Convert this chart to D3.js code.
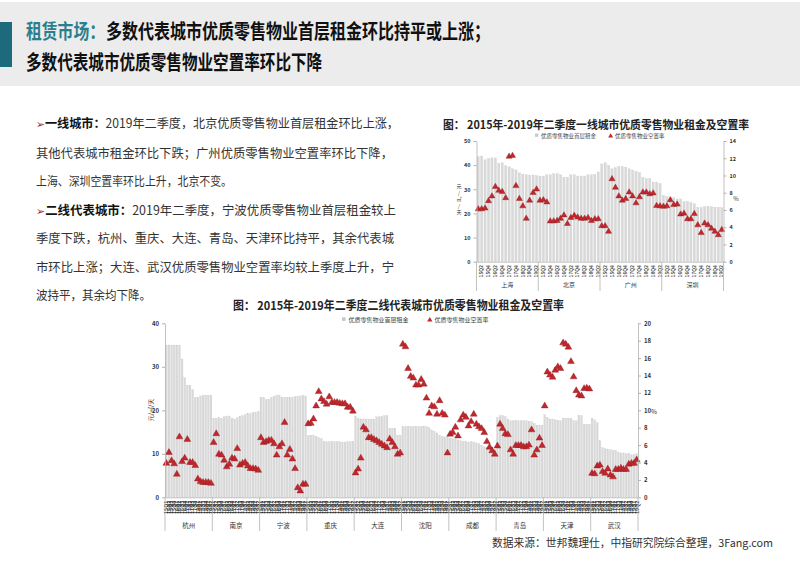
<!DOCTYPE html>
<html><head><meta charset="utf-8">
<script src="https://cdn.jsdelivr.net/npm/d3@7"></script>
<style>
body{margin:0;background:#fff}
svg{display:block}
text{font-family:"Noto Sans CJK SC","Noto Sans",sans-serif}
</style>
</head><body>
<svg id="c" width="800" height="565"></svg>
<script>
// ---------------- DATA ----------------
const quarters = ["15Q1","15Q2","15Q3","15Q4","16Q1","16Q2","16Q3","16Q4","17Q1","17Q2","17Q3","17Q4","18Q1","18Q2","18Q3","18Q4","19Q1","19Q2"];

// Tier-1 chart
const t1Cities = ["上海","北京","广州","深圳"];
const t1Rent = [
  [43.5,43.8,42.2,42.8,43.0,43.0,40.8,41.0,39.8,39.3,38.5,38.0,36.8,36.3,36.0,35.9,35.9,35.7],
  [35.5,35.5,36.0,36.0,36.5,36.5,36.0,35.0,35.0,36.0,36.0,35.5,35.5,35.5,36.0,36.0,36.2,37.2],
  [40.5,41.0,40.0,38.5,39.0,39.5,39.5,39.2,38.5,38.0,37.5,37.0,35.0,34.5,34.5,33.0,33.0,32.5],
  [27.5,27.0,26.5,26.5,26.0,26.0,25.0,25.0,24.5,24.0,22.5,22.5,22.8,23.0,22.8,22.6,22.6,22.4]
];
const t1Vacancy = [
  [6.1,6.1,6.2,7.05,7.6,8.7,8.25,8.1,7.4,12.2,12.3,8.8,7.3,6.45,5.0,7.1,8.0,8.4],
  [7.1,7.15,6.9,4.7,4.7,4.75,5.0,5.4,4.4,5.1,5.35,5.15,5.0,5.0,5.1,4.75,4.95,4.95],
  [4.15,4.15,3.5,9.6,8.6,7.6,7.1,7.3,8.05,7.6,6.8,7.5,8.05,8.05,7.85,7.95,6.5,6.45],
  [6.4,6.45,7.15,6.6,6.65,5.5,5.6,4.95,4.95,5.55,4.25,3.35,4.45,4.25,3.85,3.5,3.1,3.7]
];
const t1LeftTicks = [0,10,20,30,40,50];
const t1RightTicks = [0,2,4,6,8,10,12,14];

// Tier-2 chart
const t2Cities = ["杭州","南京","宁波","重庆","大连","沈阳","成都","青岛","天津","武汉"];
const t2Rent = [
  [35,35,35,35,35,35,31.8,27.5,25.8,25.8,24.8,23,23,23.3,23.5,23.5,23.5,23.5],
  [18.2,18.2,18.3,18.2,18.5,18.6,18.7,18.2,18.0,18.3,18.6,18.8,19.0,19.2,19.3,19.5,19.6,19.8],
  [23.0,23.0,22.5,22.5,23.0,23.2,23.5,23.5,23.0,23.0,23.0,23.0,23.0,23.2,23.2,23.3,23.4,23.3],
  [14.2,14.3,14.3,14.0,13.7,13.5,12.8,12.8,12.8,12.8,12.8,12.8,12.8,12.7,12.7,12.8,12.8,12.8],
  [18.7,18.2,18.0,18.0,18.0,18.0,18.0,18.0,18.5,18.5,18.5,18.8,18.8,15.9,15.9,15.9,14.3,14.3],
  [16.2,16.3,16.3,16.3,16.3,16.3,16.3,16.3,16.3,16.3,16.0,15.5,15.2,14.8,14.3,14.0,13.8,14.0],
  [13.6,13.5,13.4,13.2,13.0,12.9,12.8,12.7,12.8,12.7,12.5,12.3,12.0,11.6,11.4,11.2,11.0,11.1],
  [18.4,18.8,18.8,18.6,18.0,17.6,17.6,17.6,17.6,17.6,17.6,17.6,17.4,17.4,17.0,16.6,16.6,16.6],
  [19.0,18.4,18.0,18.0,17.8,17.6,17.6,18.2,18.2,18.2,18.2,17.6,17.6,18.8,18.8,16.8,16.8,16.8],
  [18.2,17.8,17.2,13.0,11.4,11.2,11.0,11.0,10.8,10.8,10.4,10.2,10.2,10.0,10.0,9.8,9.8,10.0]
];
const t2Vacancy = [
  [3.9,5.15,4.2,3.85,2.65,6.95,4.1,4.5,6.65,4.0,4.0,3.65,2.1,1.8,1.7,1.7,1.7,1.6],
  [6.3,7.3,4.95,4.85,4.25,3.5,3.8,4.5,4.4,5.6,3.7,3.9,4.0,3.6,3.3,3.3,3.25,3.1],
  [6.85,6.3,6.4,6.55,6.55,6.15,4.85,5.8,6.15,8.6,4.85,5.5,4.4,3.3,1.1,0.73,1.5,1.5],
  [8.45,8.5,9.0,10.5,12.15,11.3,11.0,10.7,11.55,10.9,10.9,10.9,10.8,10.75,10.75,10.35,10.35,9.9],
  [2.8,3.25,4.5,8.05,7.75,6.85,6.85,6.65,6.5,6.3,6.1,5.9,5.7,6.7,6.3,5.8,4.95,5.1],
  [17.6,17.3,14.8,13.9,13.7,12.9,12.9,13.55,13.0,11.4,9.65,10.5,10.4,9.55,11.1,9.65,9.45,5.1],
  [7.25,7.45,8.05,7.05,8.9,9.45,9.2,8.2,8.7,9.55,8.4,8.1,7.9,7.45,6.4,5.75,5.35,4.95],
  [5.9,8.4,7.9,7.3,7.2,5.45,4.95,5.95,5.95,5.95,5.8,5.8,6.0,7.75,4.85,5.45,6.8,5.95],
  [10.5,14.4,14.05,13.8,14.6,15.0,14.8,17.75,17.6,17.25,15.6,13.85,12.25,11.75,11.65,12.5,12.55,12.45],
  [2.75,2.7,3.6,3.7,2.95,2.75,3.25,2.55,2.35,3.2,3.2,3.35,3.2,3.2,3.8,3.9,3.9,4.3]
];
const t2LeftTicks = [0,10,20,30,40];
const t2RightTicks = [0,2,4,6,8,10,12,14,16,18,20];

const headerLine1a = "租赁市场：";
const headerLine1b = "多数代表城市优质零售物业首层租金环比持平或上涨；";
const headerLine2 = "多数代表城市优质零售物业空置率环比下降";
const bodyLines = [
  {b:"一线城市：", t:"2019年二季度，北京优质零售物业首层租金环比上涨，", arrow:true, w:363},
  {t:"其他代表城市租金环比下跌；广州优质零售物业空置率环比下降，", w:357},
  {t:"上海、深圳空置率环比上升，北京不变。", w:196},
  {b:"二线代表城市：", t:"2019年二季度，宁波优质零售物业首层租金较上", arrow:true, w:360},
  {t:"季度下跌，杭州、重庆、大连、青岛、天津环比持平，其余代表城", w:358},
  {t:"市环比上涨；大连、武汉优质零售物业空置率均较上季度上升，宁", w:358},
  {t:"波持平，其余均下降。", w:115}
];
const rentLegend = "优质零售物业首层租金";
const vacLegend = "优质零售物业空置率";
const t1Title = "图：  2015年-2019年二季度一线城市优质零售物业租金及空置率";
const t2Title = "图：  2015年-2019年二季度二线代表城市优质零售物业租金及空置率";
const sourceText = "数据来源：世邦魏理仕，中指研究院综合整理，3Fang.com";

// ---------------- DRAW ----------------
const svg = d3.select("#c");
const BAR = "#d9d9d9", TRI = "#c1272d", TRI_S = "#8e1b1f", AX = "#b3b3b3";

// header
svg.append("rect").attr("x",0).attr("y",2).attr("width",800).attr("height",84).attr("fill","#ececec");
svg.append("rect").attr("x",0).attr("y",22).attr("width",12).attr("height",45).attr("fill","#1c6a7b");
svg.append("text").attr("transform","translate(26,39) scale(0.79,1)").attr("font-size",20).attr("font-weight","bold").attr("fill","#2a7e8e")
  .text(headerLine1a);
svg.append("text").attr("transform","translate(106,39) scale(0.80,1)").attr("font-size",20).attr("font-weight","bold").attr("fill","#111")
  .text(headerLine1b);
svg.append("text").attr("transform","translate(26,70) scale(0.78,1)").attr("font-size",20).attr("font-weight","bold").attr("fill","#111")
  .text(headerLine2);

// body text
const lineY = [128,158,186,214.5,243,272,300];
bodyLines.forEach((l,i)=>{
  const t = svg.append("text").attr("x",36).attr("y",lineY[i]).attr("font-size",12.5).attr("fill","#333")
    .attr("textLength",l.w).attr("lengthAdjust","spacingAndGlyphs");
  if(l.arrow) t.append("tspan").attr("fill","#9c2a2e").attr("font-family","DejaVu Sans").attr("font-size",11).text("➢");
  if(l.b) t.append("tspan").attr("font-weight","bold").attr("fill","#111").text(l.b);
  t.append("tspan").text(l.t);
});

// source
svg.append("text").attr("x",492).attr("y",547).attr("font-size",11).attr("fill","#333")
  .attr("textLength",281).attr("lengthAdjust","spacingAndGlyphs").text(sourceText);

function drawChart(o){
  const keys = [];
  o.cities.forEach(c=>quarters.forEach(q=>keys.push(c+"|"+q)));
  const x = d3.scaleBand().domain(keys).range([o.x0,o.x1]).paddingInner(o.pad).paddingOuter(o.pad/2);
  const yL = d3.scaleLinear().domain([0,o.lMax]).range([o.y0,o.yTop]);
  const yR = d3.scaleLinear().domain([0,o.rMax]).range([o.y0,o.yTop]);
  const g = svg.append("g");
  const rows = [], tris = [];
  o.cities.forEach((c,ci)=>quarters.forEach((q,qi)=>{
    rows.push({k:c+"|"+q, v:o.rent[ci][qi]});
    tris.push({k:c+"|"+q, v:o.vac[ci][qi]});
  }));
  g.selectAll("rect.bar").data(rows).join("rect").attr("class","bar")
    .attr("x",d=>x(d.k)).attr("width",x.bandwidth())
    .attr("y",d=>yL(d.v)).attr("height",d=>o.y0-yL(d.v))
    .attr("fill",BAR).attr("stroke","#c9c9c9").attr("stroke-width",0.25);
  const sym = d3.symbol().type(d3.symbolTriangle).size(o.triSize);
  g.selectAll("path.tri").data(tris).join("path").attr("class","tri")
    .attr("d",sym).attr("transform",d=>`translate(${x(d.k)+x.bandwidth()/2},${yR(d.v)})`)
    .attr("fill",TRI).attr("stroke",TRI_S).attr("stroke-width",0.4);

  // axes
  const la = g.append("g").attr("transform",`translate(${o.x0},0)`)
    .call(d3.axisLeft(yL).tickValues(o.lTicks).tickSize(3).tickSizeOuter(0));
  const ra = g.append("g").attr("transform",`translate(${o.x1},0)`)
    .call(d3.axisRight(yR).tickValues(o.rTicks).tickSize(3).tickSizeOuter(0));
  [la,ra].forEach(a=>{
    a.select(".domain").attr("stroke",AX).attr("stroke-width",0.8);
    a.selectAll(".tick line").attr("stroke",AX);
    a.selectAll(".tick text").attr("font-size",o.tickFs).attr("fill","#333").attr("font-family","Liberation Sans, Arial, sans-serif").attr("font-weight","bold");
  });
  // bottom axis
  const tickKeys = o.labelEvery===1 ? keys : keys.filter((k,i)=>i%o.labelEvery===o.labelEvery-1);
  const ba = g.append("g").attr("transform",`translate(0,${o.y0})`)
    .call(d3.axisBottom(x).tickValues(tickKeys).tickSize(0).tickFormat(k=>k.split("|")[1]));
  ba.select(".domain").attr("stroke",AX).attr("stroke-width",0.8);
  ba.selectAll(".tick text").attr("font-size",o.qFs).attr("font-weight","bold").attr("fill",o.qFill)
    .attr("font-family","Liberation Sans, Arial, sans-serif")
    .attr("transform","rotate(-90)").attr("text-anchor","end").attr("dx",-2).attr("dy",(o.qFs*0.35)+"px").attr("y",0).attr("x",-1.5);
  // separators & city labels
  const grpW = x.step()*quarters.length;
  const sepX = o.cities.map((c,i)=>o.x0 + i*grpW).concat([o.x1]);
  g.selectAll("line.sep").data(sepX).join("line").attr("class","sep")
    .attr("x1",d=>d).attr("x2",d=>d).attr("y1",o.y0).attr("y2",o.sepBottom)
    .attr("stroke",AX).attr("stroke-width",0.8);
  g.selectAll("text.city").data(o.cities).join("text").attr("class","city")
    .attr("x",(d,i)=>o.x0+(i+0.5)*grpW).attr("y",o.cityY).attr("text-anchor","middle")
    .attr("font-size",o.cityFs).attr("fill","#333").text(d=>d);
  // title
  svg.append("text").attr("x",o.titleX).attr("y",o.titleY).attr("font-size",o.titleFs).attr("font-weight","bold")
    .attr("fill","#222").attr("textLength",o.titleW).attr("lengthAdjust","spacingAndGlyphs").text(o.title);
  // legend
  const lg = svg.append("g");
  lg.append("rect").attr("x",o.legX1).attr("y",o.legY-o.legFs*0.45).attr("width",o.legFs*0.6).attr("height",o.legFs*0.6).attr("fill","#c8c8c8");
  lg.append("text").attr("x",o.legX1+o.legFs*1.1).attr("y",o.legY+o.legFs*0.35).attr("font-size",o.legFs).attr("fill","#444").text(rentLegend);
  lg.append("path").attr("d",d3.symbol().type(d3.symbolTriangle).size(o.legFs*o.legFs*0.35)())
    .attr("transform",`translate(${o.legX2+o.legFs*0.3},${o.legY})`).attr("fill",TRI);
  lg.append("text").attr("x",o.legX2+o.legFs*1.1).attr("y",o.legY+o.legFs*0.35).attr("font-size",o.legFs).attr("fill","#444").text(vacLegend);
  return {g,x,yL,yR};
}

// Tier-1 chart
drawChart({
  cities:t1Cities, rent:t1Rent, vac:t1Vacancy, x0:476.5, x1:723.5, y0:261.7, yTop:141,
  lMax:50, rMax:14, lTicks:t1LeftTicks, rTicks:t1RightTicks, pad:0.35, triSize:16,
  tickFs:5.5, qFs:4.8, qFill:"#555", labelEvery:2, sepBottom:291, cityY:287, cityFs:6,
  title:t1Title, titleX:443, titleY:129, titleFs:11.5, titleW:306,
  legX1:535, legX2:609, legY:136, legFs:5.5
});
// y labels tier1
["元","/","㎡","/","天"].forEach((ch,i)=>{
  svg.append("text").attr("x",459).attr("y",188+i*6.6).attr("text-anchor","middle").attr("font-size",5).attr("fill","#333").text(ch);
});
svg.append("text").attr("x",736).attr("y",201).attr("text-anchor","middle").attr("font-size",6).attr("fill","#333").text("%");

// Tier-2 chart
drawChart({
  cities:t2Cities, rent:t2Rent, vac:t2Vacancy, x0:165, x1:638, y0:497.3, yTop:323.3,
  lMax:40, rMax:20, lTicks:t2LeftTicks, rTicks:t2RightTicks, pad:0.32, triSize:20,
  tickFs:6, qFs:5.2, qFill:"#3a3a3a", labelEvery:1, sepBottom:531, cityY:528, cityFs:6.5,
  title:t2Title, titleX:233, titleY:310, titleFs:12, titleW:331,
  legX1:342, legX2:428, legY:320, legFs:6
});
svg.append("text").attr("transform","translate(153,410) rotate(-90)").attr("text-anchor","middle")
  .attr("font-size",6).attr("fill","#333").text("元/㎡/天");
svg.append("text").attr("x",651).attr("y",414).attr("font-size",6.5).attr("fill","#333").text("%");
</script>
</body></html>
